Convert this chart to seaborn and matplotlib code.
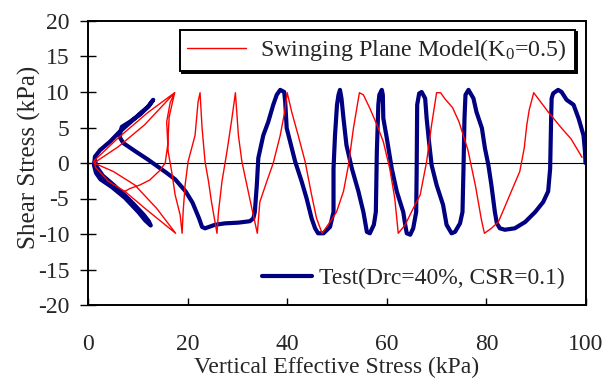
import matplotlib
matplotlib.use("Agg")
import matplotlib.pyplot as plt
import seaborn as sns
from matplotlib.lines import Line2D

# swinging plane model path (sigma'v, tau) in kPa
model_x = [99.2, 97.0, 95.1, 92.4, 89.5,
           88.6, 88.1, 87.6, 86.7, 84.7, 83.5, 82.4, 81.0, 79.6,
           79.0, 77.8, 76.3, 74.5, 73.2, 71.6, 70.8, 70.0,
           69.0, 68.0, 66.7, 65.3, 63.7, 62.3,
           61.6, 60.6, 59.3, 58.0, 56.6, 55.3, 54.5,
           53.3, 52.3, 51.3, 49.9, 48.6, 47.0,
           45.9, 44.9, 43.6, 42.2, 40.9, 40.0,
           39.5, 38.6, 37.2, 35.9, 34.5, 34.0,
           32.9, 31.9, 30.9, 30.2, 29.6,
           28.9, 27.9, 26.9, 26.2, 25.9,
           24.8, 24.2, 23.5, 22.9, 22.5,
           22.1, 21.5, 20.1, 19.5, 19.1, 18.9,
           18.5, 17.5, 16.8, 16.1, 15.8, 16.5, 17.4,
           16.3, 16.0, 15.5, 14.5, 12.4, 10.4, 8.4, 7.4, 11.8, 17.6,
           13.8, 9.4, 5.1, 1.2,
           6.1, 11.4, 17.4,
           12.0, 6.0, 1.2,
           1.5, 4.1, 7.4]
model_y = [0.8, 3.4, 4.9, 7.2, 9.9,
           7.5, 5.3, 2.1, -1.2, -4.5, -6.5, -8.3, -9.2, -9.9,
           -8.0, -3.2, 1.8, 5.8, 7.8, 9.1, 9.9, 9.9,
           5.4, 0.2, -4.5, -6.4, -8.7, -9.9,
           -5.0, -0.8, 3.0, 5.4, 7.7, 9.6, 9.9,
           4.9, -0.3, -4.0, -6.9, -8.3, -9.9,
           -7.8, -4.5, 0.2, 3.9, 7.2, 9.9,
           7.2, 3.9, 0.0, -2.6, -5.5, -9.9,
           -6.4, -3.1, 0.2, 3.9, 9.9,
           6.3, 1.6, -2.6, -6.9, -9.9,
           -5.5, -2.6, 0.2, 5.0, 9.9,
           8.6, 3.9, 0.2, -3.1, -6.9, -9.9,
           -7.3, -4.5, -1.2, 1.6, 5.8, 8.5, 9.9,
           6.5, 2.5, 0.0, -1.0, -2.4, -3.1, -3.6, -4.0, -6.6, -9.9,
           -6.4, -3.1, -1.2, 0.0,
           2.3, 5.4, 9.9,
           7.1, 3.5, 0.3,
           -0.6, -2.6, -4.0]

# test path, Drc=40%, CSR=0.1
test_x = [99.9, 99.8, 99.5, 98.5, 97.5, 96.1, 95.1, 94.4, 93.4, 93.1, 93.0, 92.8, 92.4, 91.4, 89.8, 87.8,
          85.7, 83.7, 82.7, 82.1,
          81.7, 81.0, 80.4, 79.7, 79.1, 78.0, 77.4, 76.4, 75.8, 75.6, 75.4, 75.2, 74.7, 73.7, 73.0,
          72.0, 71.3, 70.0, 69.0, 68.4, 68.0, 67.7, 67.0, 66.5, 66.1, 66.0, 65.9, 65.3, 64.7, 64.0, 63.7,
          63.3, 62.0, 61.0, 60.0, 59.3, 59.2, 59.0, 58.5, 58.3, 58.0, 57.8, 57.4, 56.6, 56.0,
          55.3, 54.3, 53.0, 51.9, 51.3, 50.9, 50.6, 50.3, 50.0, 49.6, 49.3, 49.3, 48.6, 47.3, 46.2, 45.6,
          44.9, 43.9, 42.9, 41.6, 40.6, 39.9, 39.6, 39.4, 38.6, 37.9, 37.2, 36.2, 35.2, 34.2, 33.9, 33.5,
          33.2, 32.5,
          30.2, 27.5, 25.5, 23.5, 22.9, 22.3, 21.0, 19.6, 17.5, 15.8, 14.8, 12.0, 9.4, 7.1,
          6.4, 6.5, 6.8, 8.4, 10.4, 12.0, 13.1, 12.2, 10.5, 9.1, 6.2, 4.4, 2.4, 1.4,
          1.2, 1.6, 2.5, 4.8, 7.4, 10.1, 11.5, 12.6, 12.2, 11.2, 9.2, 7.5, 5.0, 3.0, 1.8, 1.4]
test_y = [0.0, 1.6, 3.9, 6.3, 8.2, 8.9, 10.0, 10.3, 9.8, 9.1, 6.3, -0.8, -4.0, -5.5, -6.9, -8.3,
          -9.2, -9.4, -9.2, -8.5,
          -6.9, -3.1, -0.3, 2.1, 4.9, 7.2, 9.1, 10.3, 9.6, 6.3, -0.8, -6.9, -8.5, -9.7, -9.9,
          -8.7, -5.9, -3.1, -0.3, 3.5, 6.3, 9.1, 10.0, 9.8, 8.2, -0.8, -6.9, -9.2, -10.1, -9.9, -8.7,
          -6.9, -4.0, -0.8, 3.5, 6.3, 9.6, 10.3, 9.6, 8.2, 1.6, -6.9, -8.7, -9.9, -9.7,
          -6.9, -4.0, -0.8, 2.5, 6.3, 9.1, 10.3, 9.6, 8.2, 3.9, -0.8, -6.9, -9.0, -9.9, -9.9, -9.2,
          -7.8, -5.0, -2.6, 0.2, 3.0, 4.9, 8.6, 10.0, 10.3, 9.6, 8.2, 5.8, 3.9, 0.7, -3.1, -6.9,
          -7.8, -8.2,
          -8.4, -8.5, -8.7, -9.2, -9.0, -7.8, -5.6, -4.0, -2.3, -1.4, -0.9, 0.5, 1.7, 2.8,
          3.6, 4.4, 5.1, 5.8, 6.8, 7.9, 8.9, 8.0, 7.0, 6.1, 4.3, 3.0, 1.8, 0.9,
          -0.3, -1.4, -2.3, -3.4, -4.9, -6.9, -8.1, -8.8, -8.2, -7.3, -5.8, -4.6, -3.0, -1.8, -0.6, 0.3]

x_ticks = [0, 20, 40, 60, 80, 100]
y_ticks = [-20, -15, -10, -5, 0, 5, 10, 15, 20]

red = "#ff0000"
navy = "#000080"

sns.set_style("ticks")
plt.rcParams["font.family"] = ["Liberation Serif", "DejaVu Serif"]
plt.rcParams["mathtext.fontset"] = "custom"
plt.rcParams["mathtext.rm"] = "Liberation Serif"
plt.rcParams["mathtext.it"] = "Liberation Serif:italic"
plt.rcParams["axes.unicode_minus"] = False

fig, ax = plt.subplots(figsize=(6.14, 3.81), dpi=100)
fig.subplots_adjust(left=88/614, right=586/614, top=1-21/381, bottom=1-305/381)

ax.axhline(0, color="black", lw=0.8, zorder=1)

sns.lineplot(x=test_x, y=test_y, sort=False, estimator=None, color=navy, lw=3.0, ax=ax, zorder=2)
sns.lineplot(x=model_x, y=model_y, sort=False, estimator=None, color=red, lw=1.0, ax=ax, zorder=3)

ax.set_xlim(0, 100)
ax.set_ylim(-20, 20)
ax.set_xticks(x_ticks)
ax.set_yticks(y_ticks)
ax.tick_params(axis="y", direction="inout", length=11, width=1, labelsize=17, pad=8, color="black")
ax.tick_params(axis="x", direction="in", length=5, width=1, labelsize=17, pad=21, color="black")
for s in ax.spines.values():
    s.set_linewidth(1.4)
    s.set_color("black")

ax.set_xlabel("Vertical Effective Stress (kPa)", fontsize=17, labelpad=1)
ax.set_ylabel("Shear Stress (kPa)", fontsize=18)
ax.yaxis.set_label_coords(-0.095, 0.519)

h1 = Line2D([], [], color=red, lw=1.0)
leg1 = ax.legend([h1], ["Swinging Plane Model(K$_\\mathrm{0}$=0.5)"], loc="upper right",
                 bbox_to_anchor=(0.977, 0.968), borderaxespad=0, fontsize=17.3, frameon=True,
                 fancybox=False, edgecolor="black", framealpha=1, handlelength=2.45,
                 handletextpad=0.6, borderpad=0.3,
                 shadow={"color": "black", "alpha": 1, "ox": 1.5, "oy": -1.5})
leg1.get_frame().set_linewidth(1.4)
ax.add_artist(leg1)

h2 = Line2D([], [], color=navy, lw=3.0)
ax.legend([h2], ["Test(Drc=40%, CSR=0.1)"], loc="center right", bbox_to_anchor=(0.977, 0.095),
          borderaxespad=0, fontsize=17, frameon=False, handlelength=2.15, handletextpad=0.3)

fig.savefig("out.png", dpi=100)
